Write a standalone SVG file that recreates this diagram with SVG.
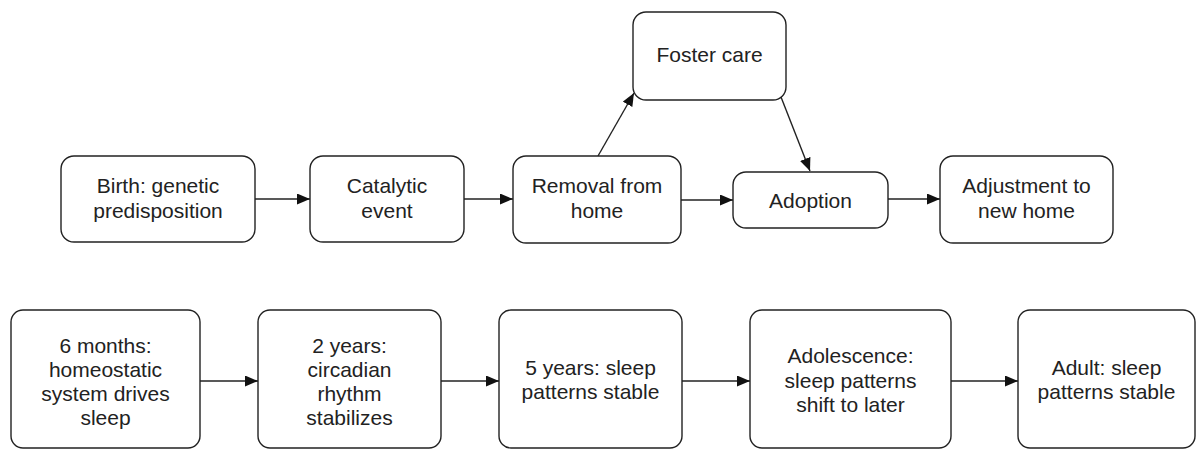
<svg xmlns="http://www.w3.org/2000/svg" width="1196" height="451" viewBox="0 0 1196 451">
<style>
.box{fill:#fff;stroke:#222;stroke-width:1.4}
.t{font-family:"Liberation Sans",Arial,sans-serif;font-size:21px;fill:#222;text-anchor:middle}
.c{stroke:#222;stroke-width:1.4;fill:none}
</style>
<defs>
<marker id="ah" markerUnits="userSpaceOnUse" markerWidth="13" markerHeight="11" refX="13" refY="5.5" orient="auto">
<path d="M0,0 L13,5.5 L0,11 z" fill="#111"/>
</marker>
</defs>
<rect width="1196" height="451" fill="#fff"/>
<g id="connectors">
<line class="c" x1="255" y1="199" x2="310" y2="199" marker-end="url(#ah)"/>
<line class="c" x1="464" y1="199" x2="513" y2="199" marker-end="url(#ah)"/>
<line class="c" x1="681" y1="200" x2="733" y2="200" marker-end="url(#ah)"/>
<line class="c" x1="888" y1="199" x2="940" y2="199" marker-end="url(#ah)"/>
<line class="c" x1="598" y1="156" x2="634" y2="93" marker-end="url(#ah)"/>
<line class="c" x1="781" y1="97" x2="810" y2="171" marker-end="url(#ah)"/>
<line class="c" x1="200" y1="381" x2="258" y2="381" marker-end="url(#ah)"/>
<line class="c" x1="441" y1="381" x2="499" y2="381" marker-end="url(#ah)"/>
<line class="c" x1="682" y1="381" x2="750" y2="381" marker-end="url(#ah)"/>
<line class="c" x1="951" y1="381" x2="1018" y2="381" marker-end="url(#ah)"/>
</g>
<g id="birth"><rect class="box" x="61" y="156" width="194" height="86" rx="13"/>
<text class="t" x="158" y="193">Birth: genetic</text><text class="t" x="158" y="217.5">predisposition</text></g>
<g id="catalytic"><rect class="box" x="310" y="156" width="154" height="86" rx="13"/>
<text class="t" x="387" y="193">Catalytic</text><text class="t" x="387" y="217.5">event</text></g>
<g id="removal"><rect class="box" x="513" y="156" width="168" height="87" rx="13"/>
<text class="t" x="597" y="193">Removal from</text><text class="t" x="597" y="217.5">home</text></g>
<g id="foster"><rect class="box" x="633" y="12" width="153" height="88" rx="13"/>
<text class="t" x="709.5" y="62">Foster care</text></g>
<g id="adoption"><rect class="box" x="733" y="172" width="155" height="56" rx="13"/>
<text class="t" x="810.5" y="207.5">Adoption</text></g>
<g id="adjustment"><rect class="box" x="940" y="156" width="173" height="87" rx="13"/>
<text class="t" x="1026.5" y="193">Adjustment to</text><text class="t" x="1026.5" y="217.5">new home</text></g>
<g id="six-months"><rect class="box" x="11" y="310" width="189" height="138" rx="12"/>
<text class="t" x="105.5" y="353">6 months:</text><text class="t" x="105.5" y="377">homeostatic</text><text class="t" x="105.5" y="401">system drives</text><text class="t" x="105.5" y="425">sleep</text></g>
<g id="two-years"><rect class="box" x="258" y="310" width="183" height="138" rx="12"/>
<text class="t" x="349.5" y="353">2 years:</text><text class="t" x="349.5" y="377">circadian</text><text class="t" x="349.5" y="401">rhythm</text><text class="t" x="349.5" y="425">stabilizes</text></g>
<g id="five-years"><rect class="box" x="499" y="310" width="183" height="138" rx="12"/>
<text class="t" x="590.5" y="375">5 years: sleep</text><text class="t" x="590.5" y="399">patterns stable</text></g>
<g id="adolescence"><rect class="box" x="750" y="310" width="201" height="138" rx="12"/>
<text class="t" x="850.5" y="363">Adolescence:</text><text class="t" x="850.5" y="387.5">sleep patterns</text><text class="t" x="850.5" y="412">shift to later</text></g>
<g id="adult"><rect class="box" x="1018" y="310" width="177" height="138" rx="12"/>
<text class="t" x="1106.5" y="375">Adult: sleep</text><text class="t" x="1106.5" y="399">patterns stable</text></g>
</svg>
